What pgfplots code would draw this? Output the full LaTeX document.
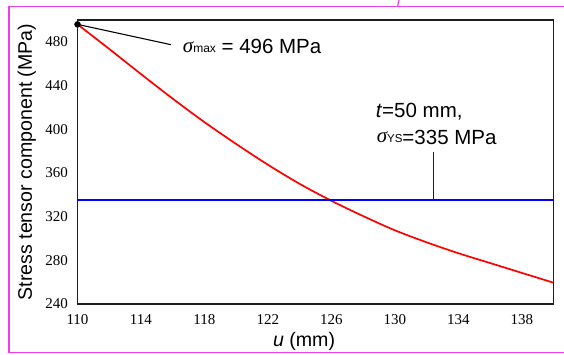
\documentclass[border=0pt]{standalone}
\usepackage{fontspec}
\setmainfont{Liberation Sans}
\newfontfamily\tnr{Liberation Serif}
\usepackage{pgfplots}
\pgfplotsset{compat=1.18}
\definecolor{frame}{RGB}{238,60,238}
\begin{document}
\begin{tikzpicture}
\useasboundingbox (-77.5pt,-50pt) rectangle (486.5pt,304pt);
\draw[frame, line width=1.2pt] (486.5pt,297.3pt) -- (-68.5pt,297.3pt) -- (-68.5pt,-48.7pt) -- (486.5pt,-48.7pt);
\draw[frame, line width=1.2pt] (320pt,297.3pt) -- (321.5pt,304pt);
\begin{axis}[
  at={(0pt,0pt)}, anchor=south west,
  scale only axis, width=476pt, height=284pt,
  xmin=110, xmax=140, ymin=240, ymax=500,
  xtick={110,114,...,138}, ytick={240,280,...,480},
  major tick length=0pt,
  axis line style={line width=1.5pt, color=black!88},
  /pgf/number format/assume math mode=true,
  ticklabel style={font=\tnr\fontsize{15}{15}\selectfont},
  yticklabel style={anchor=east, inner sep=0pt, xshift=-9.5pt},
  xticklabel style={anchor=north, inner sep=0pt, yshift=-10pt},
  xlabel={\textit{u} (mm)},
  ylabel={Stress tensor component (MPa)},
  label style={font=\fontsize{19.6}{19.6}\selectfont},
  xlabel style={at={(axis description cs:0.476,-0.151)}, anchor=base},
  ylabel style={at={(axis description cs:-0.0956,0.5)}, anchor=base},
  clip=false,
]
\addplot[red, line width=1.7pt, smooth] coordinates {
(110,496) (112,473.5) (114,450.5) (116,428) (118,406.5) (120,386.5)
(122,367.5) (124,350) (126,334.5) (128,320.5) (130,307.5) (132,296.5)
(134,286.5) (136,277.5) (138,268.5) (140,259.5)};
\addplot[blue, line width=1.8pt] coordinates {(110,335) (140,335)};
\addplot[blue, line width=1.1pt] coordinates {(132.42,335) (132.42,379)};
\addplot[black, line width=1.1pt] coordinates {(110,496) (115.89,477.4)};
\addplot[black, only marks, mark=*, mark size=3pt] coordinates {(110,496)};
\node[anchor=base west, inner sep=0pt, font=\fontsize{20.5}{20.5}\selectfont] at (axis cs:116.63,468.9)
  {\raisebox{1.5pt}{{\tnr\itshape\fontsize{21}{21}\selectfont σ}{\fontsize{12}{12}\selectfont max}} = 496 MPa};
\node[anchor=base west, inner sep=0pt, font=\fontsize{20.5}{20.5}\selectfont] at (axis cs:128.79,410.3)
  {\textit{t}=50 mm,};
\node[anchor=base west, inner sep=0pt, font=\fontsize{20.5}{20.5}\selectfont] at (axis cs:128.85,385.6)
  {\raisebox{2pt}{{\tnr\itshape\fontsize{21}{21}\selectfont σ}{\fontsize{11.5}{11.5}\selectfont YS}}=335 MPa};
\end{axis}
\end{tikzpicture}
\end{document}
